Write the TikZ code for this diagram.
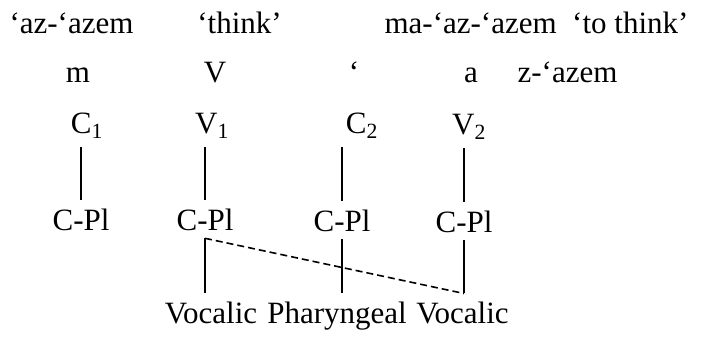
\documentclass[tikz,border=0pt]{standalone}
\usepackage{fontspec}
\setmainfont{Liberation Serif}

\begin{document}
\begin{tikzpicture}[
    x=1pt, y=-1pt,
    every node/.style={font=\fontsize{31}{37}\selectfont, inner sep=0pt, outer sep=8pt, anchor=base},
    assoc/.style={line width=1.6pt},
    spread/.style={line width=1.6pt, dash pattern=on 7pt off 4pt}
]
\useasboundingbox (0,0) rectangle (702,337);

% --- Gloss line ---
\node (stem) at (71.5,34) {‘az-‘azem};
\node (gloss) at (239.5,34) {‘think’};
\node (deriv) at (536.5,34) {ma-‘az-‘azem\enspace‘to think’};

% --- Melody ---
\node (mm) at (78,83) {m};
\node (vv) at (215,83) {V};
\node (ayn) at (354,83) {‘};
\node (aa) at (471,83) {a};
\node (rest) at (567.5,83) {z-‘azem};

% --- Skeleton ---
\node (c1) at (87,133) {C\textsubscript{1}};
\node (v1) at (212,133) {V\textsubscript{1}};
\node (c2) at (362,133) {C\textsubscript{2}};
\node (v2) at (469,134) {V\textsubscript{2}};

% --- Place nodes ---
\node (cpl1) at (81,230) {C-Pl};
\node (cpl2) at (205,230) {C-Pl};
\node (cpl3) at (342,231) {C-Pl};
\node (cpl4) at (464,232) {C-Pl};

% --- Features ---
\node (voc1) at (211,323) {Vocalic};
\node (phar) at (337,323) {Pharyngeal};
\node (voc2) at (462.5,323) {Vocalic};

% --- Association lines ---
\foreach \s/\p in {c1/cpl1, v1/cpl2, c2/cpl3, v2/cpl4}
    \draw[assoc] (\p.north |- \s.south) -- (\p.north);
\foreach \p/\f in {cpl2/voc1, cpl3/phar, cpl4/voc2}
    \draw[assoc] (\p.south) -- (\p.south |- \f.north);

% --- Spreading ---
\coordinate (spreadend) at (cpl4.south |- voc2.north);
\draw[spread] (cpl2.south) -- (spreadend);

\end{tikzpicture}
\end{document}
